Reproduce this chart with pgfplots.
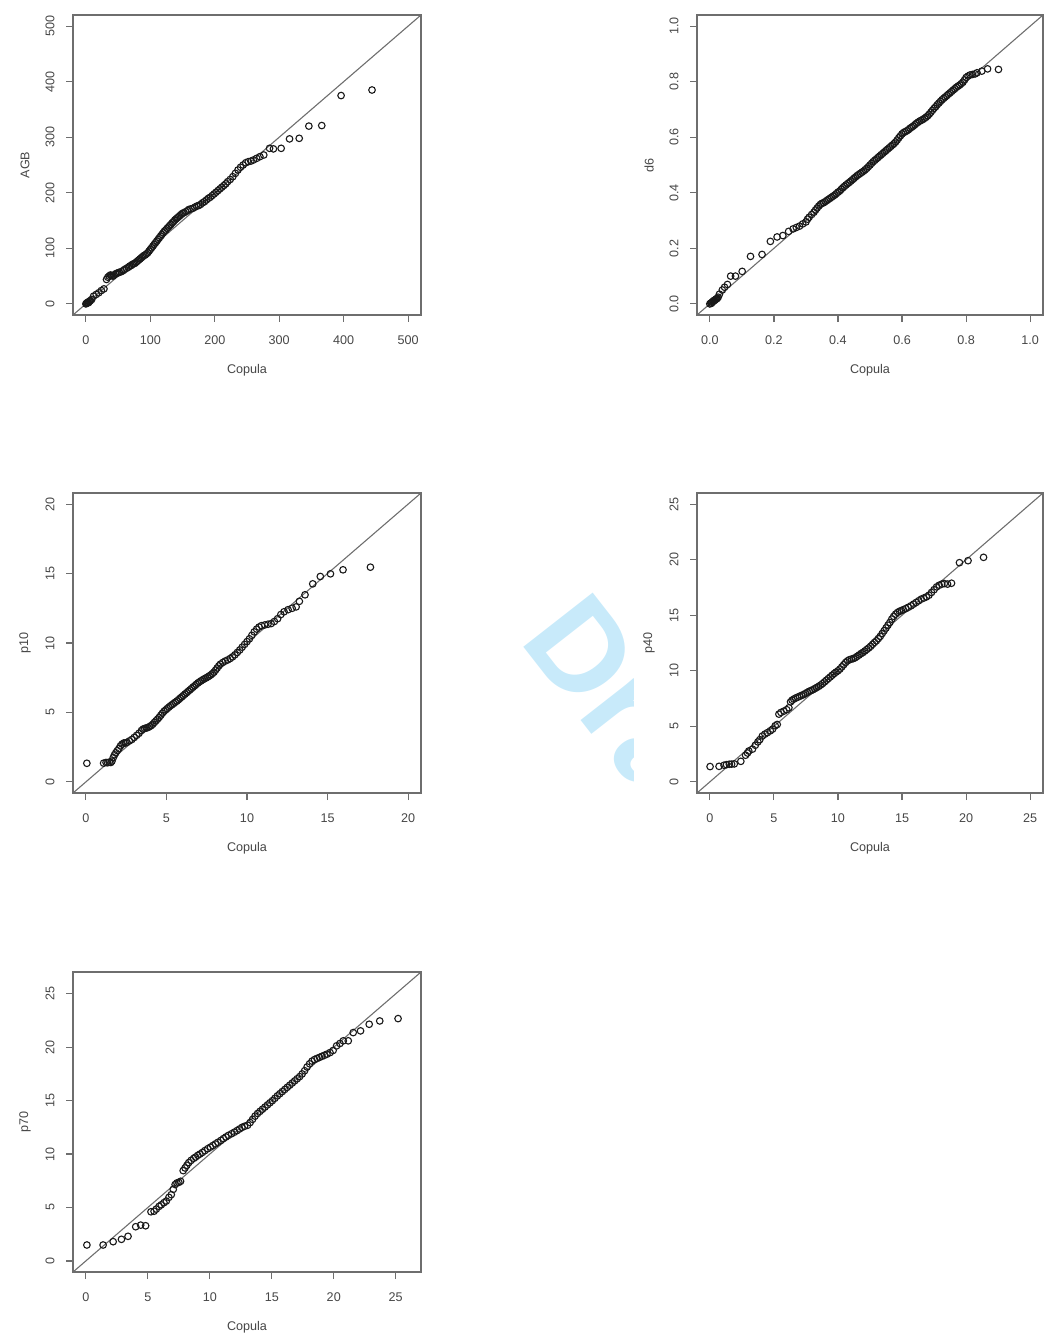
\documentclass[border=0pt]{standalone}
\usepackage{pgfplots}
\usepackage{pgfplotstable}
\pgfplotsset{compat=1.18}
\usepackage{fontspec}
\setmainfont{Liberation Sans}

% Sample quantiles (y) against copula quantiles (x)
\pgfplotstableread{
x y
0 0
1 1
2 2
3 3
4 2
5 4
6 5
7 6
9 8
12 14
16 17
20 20
24 24
28 27
32 44
34 48
36 50
38 52
40 51
42 50
44 52
46 54
48 55
50 56
52 57
55 58
58 60
60 62
63 64
66 66
68 68
70 69
72 71
74 72
76 73
78 75
80 77
82 79
84 81
86 83
88 85
90 87
92 88
94 90
96 92
98 95
100 98
102 101
104 104
106 107
108 110
110 113
112 116
114 119
116 122
118 125
120 128
122 131
124 133
126 136
128 138
130 141
132 143
134 146
136 148
138 151
140 153
142 155
144 157
146 159
148 161
150 163
152 164
155 166
158 168
160 170
163 171
166 172
169 174
172 176
175 177
178 179
181 182
184 184
187 187
190 190
193 192
196 195
199 198
202 201
205 204
208 207
211 210
214 213
217 216
220 220
224 224
228 229
232 235
236 241
240 246
244 250
248 254
252 256
256 257
260 259
265 262
270 265
276 268
285 280
291 279
303 280
316 297
331 298
346 320
366 321
396 375
444 385
}\agb

\pgfplotstableread{
x y
0.000 0.000
0.003 0.003
0.005 0.002
0.007 0.006
0.009 0.008
0.011 0.010
0.013 0.012
0.015 0.013
0.017 0.015
0.019 0.017
0.021 0.018
0.023 0.020
0.026 0.024
0.030 0.035
0.039 0.050
0.046 0.060
0.055 0.070
0.065 0.100
0.080 0.100
0.101 0.117
0.127 0.171
0.163 0.178
0.189 0.225
0.210 0.241
0.228 0.246
0.246 0.261
0.260 0.270
0.270 0.275
0.280 0.280
0.290 0.288
0.300 0.295
0.305 0.305
0.310 0.312
0.318 0.322
0.325 0.330
0.330 0.338
0.335 0.345
0.340 0.352
0.345 0.358
0.350 0.362
0.355 0.364
0.360 0.368
0.365 0.372
0.370 0.376
0.375 0.380
0.380 0.384
0.385 0.388
0.390 0.392
0.395 0.397
0.400 0.402
0.405 0.406
0.410 0.412
0.415 0.418
0.420 0.423
0.425 0.428
0.430 0.433
0.435 0.437
0.440 0.442
0.445 0.447
0.450 0.452
0.455 0.457
0.460 0.462
0.465 0.466
0.470 0.470
0.475 0.474
0.480 0.478
0.485 0.483
0.490 0.488
0.495 0.494
0.500 0.500
0.505 0.506
0.510 0.512
0.515 0.517
0.520 0.522
0.525 0.527
0.530 0.532
0.535 0.537
0.540 0.542
0.545 0.547
0.550 0.552
0.555 0.557
0.560 0.562
0.565 0.567
0.570 0.572
0.575 0.577
0.580 0.583
0.585 0.590
0.590 0.598
0.595 0.605
0.600 0.612
0.605 0.617
0.610 0.620
0.615 0.623
0.620 0.627
0.625 0.632
0.630 0.636
0.635 0.640
0.640 0.645
0.645 0.650
0.650 0.654
0.655 0.658
0.660 0.661
0.665 0.664
0.670 0.668
0.675 0.672
0.680 0.677
0.685 0.683
0.690 0.690
0.695 0.697
0.700 0.704
0.705 0.710
0.710 0.717
0.715 0.723
0.720 0.729
0.725 0.735
0.730 0.740
0.735 0.745
0.740 0.750
0.745 0.755
0.750 0.760
0.755 0.765
0.760 0.770
0.765 0.775
0.770 0.780
0.775 0.784
0.780 0.788
0.785 0.793
0.790 0.798
0.795 0.806
0.800 0.815
0.806 0.820
0.812 0.824
0.820 0.826
0.828 0.828
0.834 0.832
0.849 0.838
0.867 0.846
0.901 0.844
}\dsix

\pgfplotstableread{
x y
0.06 1.34
1.10 1.35
1.25 1.40
1.35 1.38
1.45 1.42
1.55 1.40
1.62 1.50
1.70 1.75
1.78 1.95
1.86 2.10
1.95 2.25
2.05 2.40
2.15 2.60
2.25 2.72
2.35 2.80
2.45 2.80
2.55 2.85
2.70 2.95
2.85 3.05
3.00 3.20
3.15 3.35
3.30 3.50
3.45 3.70
3.55 3.80
3.65 3.85
3.75 3.88
3.85 3.92
3.95 3.98
4.05 4.05
4.15 4.15
4.25 4.28
4.35 4.40
4.45 4.52
4.55 4.65
4.65 4.80
4.75 4.95
4.85 5.08
4.95 5.18
5.05 5.28
5.15 5.38
5.25 5.48
5.35 5.56
5.45 5.65
5.55 5.74
5.65 5.82
5.75 5.92
5.85 6.02
5.95 6.12
6.05 6.22
6.15 6.32
6.25 6.42
6.35 6.52
6.45 6.62
6.55 6.72
6.65 6.82
6.75 6.92
6.85 7.02
6.95 7.12
7.05 7.20
7.15 7.28
7.25 7.35
7.35 7.42
7.45 7.48
7.55 7.55
7.65 7.62
7.75 7.70
7.85 7.80
7.95 7.90
8.05 8.05
8.15 8.20
8.25 8.35
8.35 8.48
8.50 8.60
8.65 8.70
8.80 8.78
8.95 8.88
9.10 9.00
9.25 9.15
9.40 9.32
9.55 9.50
9.70 9.70
9.85 9.90
10.00 10.10
10.15 10.30
10.30 10.55
10.45 10.80
10.60 11.00
10.75 11.15
10.90 11.25
11.10 11.30
11.30 11.35
11.50 11.40
11.70 11.55
11.90 11.75
12.10 12.05
12.30 12.25
12.55 12.40
12.80 12.50
13.05 12.60
13.25 13.00
13.60 13.47
14.08 14.26
14.55 14.79
15.18 14.98
15.96 15.27
17.66 15.46
}\pten

\pgfplotstableread{
x y
0.02 1.38
0.72 1.40
1.11 1.50
1.30 1.55
1.52 1.59
1.70 1.60
1.91 1.62
2.42 1.85
2.79 2.40
2.94 2.60
3.04 2.78
3.33 2.95
3.55 3.30
3.75 3.60
3.90 3.80
4.10 4.13
4.30 4.30
4.49 4.43
4.72 4.60
4.90 4.75
5.10 5.05
5.26 5.17
5.39 6.10
5.55 6.25
5.78 6.37
6.00 6.50
6.17 6.67
6.30 7.20
6.42 7.35
6.55 7.45
6.70 7.55
6.85 7.62
7.00 7.70
7.15 7.78
7.30 7.85
7.45 7.95
7.60 8.05
7.75 8.15
7.90 8.22
8.05 8.30
8.20 8.40
8.35 8.50
8.50 8.60
8.65 8.72
8.80 8.85
8.95 9.00
9.10 9.15
9.25 9.30
9.40 9.45
9.55 9.60
9.70 9.75
9.85 9.88
10.00 10.00
10.15 10.15
10.30 10.35
10.45 10.55
10.60 10.75
10.75 10.90
10.90 11.00
11.05 11.05
11.20 11.10
11.35 11.18
11.50 11.30
11.65 11.42
11.80 11.55
11.95 11.65
12.10 11.78
12.25 11.92
12.40 12.05
12.55 12.20
12.70 12.38
12.85 12.55
13.00 12.70
13.15 12.90
13.30 13.10
13.45 13.35
13.60 13.60
13.75 13.85
13.90 14.10
14.05 14.35
14.20 14.65
14.35 14.90
14.50 15.10
14.65 15.25
14.80 15.35
14.95 15.42
15.10 15.50
15.30 15.60
15.50 15.72
15.70 15.85
15.90 16.00
16.10 16.15
16.30 16.30
16.50 16.45
16.70 16.55
16.90 16.65
17.10 16.80
17.30 17.05
17.50 17.30
17.70 17.55
17.90 17.70
18.10 17.80
18.30 17.85
18.55 17.80
18.86 17.88
19.48 19.73
20.15 19.91
21.36 20.21
}\pforty

\pgfplotstableread{
x y
0.08 1.49
1.39 1.49
2.20 1.80
2.87 2.02
3.40 2.30
4.02 3.20
4.42 3.35
4.82 3.29
5.25 4.60
5.50 4.65
5.68 4.85
5.90 5.10
6.08 5.25
6.30 5.45
6.49 5.60
6.70 5.95
6.89 6.20
7.05 6.70
7.20 7.15
7.35 7.30
7.50 7.35
7.64 7.45
7.85 8.45
8.00 8.70
8.15 8.95
8.30 9.20
8.49 9.41
8.70 9.60
8.85 9.72
9.03 9.88
9.20 10.00
9.40 10.15
9.60 10.32
9.83 10.50
10.05 10.65
10.25 10.80
10.45 10.95
10.65 11.10
10.90 11.28
11.10 11.45
11.30 11.60
11.50 11.75
11.75 11.90
11.98 12.05
12.20 12.20
12.40 12.35
12.60 12.50
12.80 12.60
13.05 12.70
13.25 12.95
13.45 13.25
13.65 13.55
13.85 13.80
14.05 14.00
14.25 14.20
14.45 14.40
14.65 14.60
14.85 14.80
15.05 15.00
15.25 15.22
15.45 15.45
15.65 15.65
15.85 15.85
16.05 16.05
16.25 16.25
16.45 16.45
16.65 16.65
16.85 16.85
17.05 17.05
17.25 17.25
17.45 17.50
17.65 17.80
17.85 18.15
18.05 18.45
18.25 18.70
18.45 18.85
18.65 18.95
18.85 19.05
19.05 19.15
19.25 19.25
19.45 19.35
19.70 19.50
19.95 19.70
20.23 20.13
20.50 20.35
20.77 20.60
21.17 20.60
21.57 21.37
22.16 21.53
22.86 22.15
23.71 22.46
25.19 22.68
}\pseventy

\definecolor{framegray}{RGB}{110,110,110}
\definecolor{textgray}{RGB}{70,70,70}
\definecolor{wmblue}{RGB}{200,234,250}

\pgfplotsset{
  qq/.style={
    scale only axis,
    width=174pt, height=150pt,
    axis line style={draw=framegray, line width=0.9pt},
    tick align=outside,
    major tick length=3.5pt,
    xtick pos=bottom, ytick pos=left,
    tick style={draw=framegray, line width=0.6pt},
    ticklabel style={font=\fontsize{6.3pt}{7.5pt}\selectfont, text=textgray, inner sep=0pt},
    yticklabel style={rotate=90, anchor=south},
    xticklabel style={anchor=north},
    xticklabel shift=6.5pt,
    yticklabel shift=5.5pt,
    /pgf/number format/assume math mode=true,
    label style={font=\fontsize{6.3pt}{7.5pt}\selectfont, text=textgray, inner sep=0pt},
    xlabel=Copula,
    xlabel style={at={([yshift=-27.5pt]axis description cs:0.5,0)}, anchor=center},
    ylabel style={at={([xshift=-24pt]axis description cs:0,0.5)}, anchor=center, rotate=0},
  },
  pts/.style={only marks, mark=o, mark size=1.65pt,
    mark options={line width=0.55pt, draw=black!90}},
  diag/.style={draw=framegray, line width=0.55pt},
}

\begin{document}
\begin{tikzpicture}
\useasboundingbox (0,0) rectangle (522pt,-668.5pt);

% partial watermark between the two columns
\begin{scope}
  \clip (240pt,-280pt) rectangle (316.5pt,-400pt);
  \node[anchor=base west, rotate=-52, inner sep=0pt, text=wmblue,
        font=\fontsize{64pt}{64pt}\selectfont\bfseries] at (259pt,-320pt) {Dra};
\end{scope}

% AGB
\begin{axis}[qq, at={(36.5pt,-7.5pt)}, anchor=north west,
  xmin=-20, xmax=520, ymin=-20, ymax=520,
  xtick={0,100,...,500}, ytick={0,100,...,500}, ylabel=AGB]
  \addplot[diag] coordinates {(-20,-20) (520,520)};
  \addplot[pts] table[x=x, y=y] {\agb};
\end{axis}

% d6
\begin{axis}[qq, at={(348.5pt,-7.5pt)}, anchor=north west, width=173pt,
  xmin=-0.04, xmax=1.04, ymin=-0.04, ymax=1.04,
  xtick={0,0.2,0.4,0.6,0.8,1}, ytick={0,0.2,0.4,0.6,0.8,1},
  xticklabel style={/pgf/number format/.cd, fixed, fixed zerofill, precision=1},
  yticklabel style={/pgf/number format/.cd, fixed, fixed zerofill, precision=1},
  ylabel=d6]
  \addplot[diag] coordinates {(-0.04,-0.04) (1.04,1.04)};
  \addplot[pts] table[x=x, y=y] {\dsix};
\end{axis}

% p10
\begin{axis}[qq, at={(36.5pt,-246.5pt)}, anchor=north west,
  xmin=-0.8, xmax=20.8, ymin=-0.8, ymax=20.8,
  xtick={0,5,...,20}, ytick={0,5,...,20}, ylabel=p10]
  \addplot[diag] coordinates {(-0.8,-0.8) (20.8,20.8)};
  \addplot[pts] table[x=x, y=y] {\pten};
\end{axis}

% p40
\begin{axis}[qq, at={(348.5pt,-246.5pt)}, anchor=north west, width=173pt,
  xmin=-1, xmax=26, ymin=-1, ymax=26,
  xtick={0,5,...,25}, ytick={0,5,...,25}, ylabel=p40]
  \addplot[diag] coordinates {(-1,-1) (26,26)};
  \addplot[pts] table[x=x, y=y] {\pforty};
\end{axis}

% p70
\begin{axis}[qq, at={(36.5pt,-486pt)}, anchor=north west,
  xmin=-1.04, xmax=27.04, ymin=-1.04, ymax=27.04,
  xtick={0,5,...,25}, ytick={0,5,...,25}, ylabel=p70]
  \addplot[diag] coordinates {(-1.04,-1.04) (27.04,27.04)};
  \addplot[pts] table[x=x, y=y] {\pseventy};
\end{axis}
\end{tikzpicture}
\end{document}
